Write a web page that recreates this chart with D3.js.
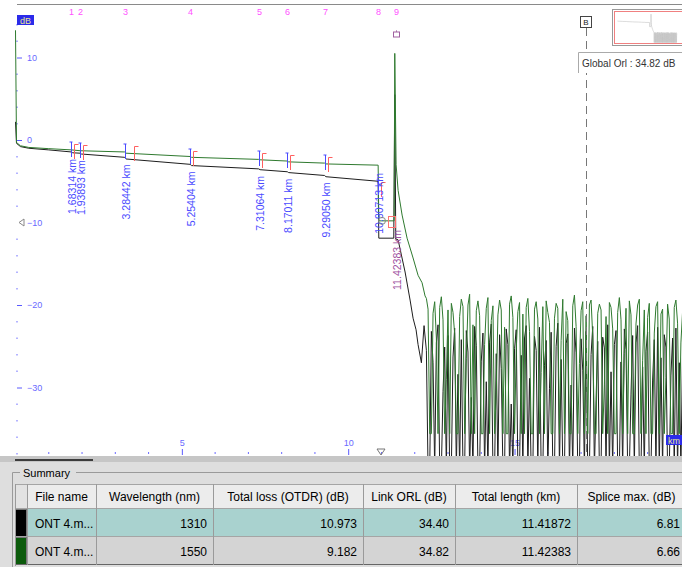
<!DOCTYPE html>
<html>
<head>
<meta charset="utf-8">
<script src="https://cdn.jsdelivr.net/npm/d3@7"></script>
<style>
  body { margin: 0; background: #fff; font-family: "Liberation Sans", Arial, sans-serif; }
  svg { display: block; }
</style>
</head>
<body>
<svg width="682" height="567"></svg>
<script>
//## DATA ##
const eventKm = [1.68314, 1.93893, 3.28442, 5.25404, 7.31064, 8.17011, 9.29050, 10.90713, 11.42383]
const yTicks = [10, 0, -10, -20, -30]
const xTicks = [5, 10, 15]
const globalOrl = 34.82

// 1310 nm trace (black) [km, dB]
const trace1310 = [
  [0, 2.2], [0.03, -0.4], [0.15, -0.8], [0.4, -1.0], [1.0, -1.2], [1.68, -1.45], [1.72, -1.55],
  [1.94, -1.6], [1.98, -1.7], [3.28, -2.1], [3.32, -2.3], [5.25, -2.95], [5.29, -3.1],
  [7.31, -3.5], [7.35, -3.6], [8.17, -3.85], [8.21, -3.95], [9.29, -4.3], [9.33, -4.45],
  [10.90, -5.0], [10.92, -11.9], [11.37, -11.9], [11.40, 5.5], [11.43, -12.0], [11.50, -12.1],
  [11.71, -16.0], [11.86, -19.4], [11.95, -21.6], [12.04, -23.0], [12.10, -24.8], [12.2, -27], [12.28, -22.5]
]
// 1550 nm trace (green) [km, dB]
const trace1550 = [
  [0, 13.3], [0.03, -0.3], [0.15, -0.7], [0.4, -0.9], [1.0, -1.05], [1.68, -1.2], [1.94, -1.3],
  [3.28, -1.45], [3.32, -1.6], [5.25, -2.0], [5.29, -2.1], [7.31, -2.35], [7.35, -2.4],
  [8.17, -2.55], [8.21, -2.65], [9.29, -2.8], [9.33, -2.9], [10.90, -3.05], [10.92, -9.8],
  [11.38, -9.8], [11.40, 10.5], [11.44, -3.0], [11.50, -6.1], [11.62, -9.1], [11.77, -11.9],
  [11.95, -14.3], [12.10, -16.4], [12.22, -17.3], [12.31, -18.9]
]
// noise tail after the fiber end, one value every noiseStep km
const noiseStart = 12.35
const noiseStep = 0.05
const noise1550 = [
  -19.2, -20.5, -35.6, -35.6, -21.0, -19.6, -24, -35.6, -20.3, -19.0, -21.8, -35.6, -29, -20.6, -35.6, -19.8, -20.9, -23.5, -35.6, -35.6,
  -21.4, -19.3, -20.2, -35.6, -26.5, -20.0, -18.7, -35.6, -22.4, -35.6, -20.7, -19.5, -21.3, -35.6, -35.6, -24.8, -20.4, -19.1, -35.6, -21.9,
  -20.1, -35.6, -30.5, -21.2, -19.4, -20.6, -35.6, -22.7, -35.6, -35.6, -19.9, -18.9, -21.5, -35.6, -25.5, -20.8, -19.7, -35.6, -21.1, -35.6,
  -20.3, -19.2, -23.2, -35.6, -35.6, -20.5, -19.6, -21.7, -35.6, -28.2, -20.2, -35.6, -19.5, -20.9, -22.1, -35.6, -35.6, -21.6, -19.8, -20.4,
  -35.6, -24.3, -19.3, -35.6, -20.8, -21.9, -35.6, -35.6, -20.1, -18.8, -22.6, -35.6, -27.1, -20.7, -19.6, -35.6, -21.3, -35.6, -20.0, -19.4,
  -23.8, -35.6, -35.6, -21.0, -19.9, -20.6, -35.6, -29.6, -21.4, -35.6, -19.7, -20.3, -22.9, -35.6, -35.6, -20.9, -19.1, -21.8, -35.6, -25.9,
  -20.4, -35.6, -19.5, -21.2, -35.6, -35.6, -22.3, -20.0, -19.3, -35.6, -26.7, -20.6, -35.6, -21.5, -19.8, -35.6, -35.6, -23.4, -20.2, -19.6,
  -35.6, -21.1, -20.5, -35.6, -28.8, -19.9, -21.7, -35.6, -35.6, -20.3, -19.4, -22.2, -35.6, -24.6, -20.8
]
const noise1310 = [
  -25.5, -40, -40, -23.2, -27, -40, -24.6, -22.4, -40, -40, -30.5, -25.1, -40, -23.7, -40, -40, -26.3, -22.8, -40, -28.4,
  -40, -24.2, -40, -40, -23.1, -25.7, -40, -31.2, -40, -22.6, -24.9, -40, -40, -26.8, -23.4, -40, -29.3, -40, -24.5, -22.3,
  -40, -40, -25.9, -40, -23.6, -27.7, -40, -40, -22.9, -24.8, -40, -32, -40, -25.3, -23.0, -40, -40, -26.1, -40, -24.0,
  -22.5, -40, -28.9, -40, -40, -23.8, -25.5, -40, -22.7, -40, -40, -27.3, -24.3, -40, -30.1, -23.3, -40, -40, -25.0, -22.2,
  -40, -26.6, -40, -40, -24.7, -23.5, -40, -29.7, -40, -22.8, -25.8, -40, -40, -24.1, -27.9, -40, -23.2, -40, -40, -26.0,
  -22.6, -40, -31.5, -24.4, -40, -40, -23.9, -25.2, -40, -22.4, -40, -28.1, -40, -24.8, -23.1, -40, -40, -26.9, -40, -22.9,
  -25.4, -40, -40, -30.8, -23.7, -40, -24.6, -22.5, -40, -40, -27.5, -40, -25.6, -23.3, -40, -40, -29.1, -24.2, -40, -22.7,
  -40, -26.4, -40, -23.6, -25.1, -40, -40, -28.6, -24.0, -40, -22.8, -40, -27.0, -40, -25.7
]

// summary table
const columns = ['File name', 'Wavelength (nm)', 'Total loss (OTDR) (dB)', 'Link ORL (dB)', 'Total length (km)', 'Splice max. (dB)']
const fileNames = ['ONT 4.m...', 'ONT 4.m...']
const wavelengths = ['1310', '1550']
const totalLoss = ['10.973', '9.182']
const linkOrl = ['34.40', '34.82']
const totalLength = ['11.41872', '11.42383']
const spliceMax = ['6.81', '6.66']
const traceColors = ['#1e1e1e', '#2f7a2f']
const swatchColors = ['#000', '#0b5a0b']

//## SET D3 VARIABLES ##
const svg = d3.select('svg')
const plot = { left: 15, top: 5, right: 682, bottom: 456 }

const x = d3.scaleLinear().domain([0, 20]).range([15.5, 15.5 + 20 * 33.27])
const y = d3.scaleLinear().domain([0, -10]).range([140, 222.5])

const withNoise = (trace, noise) => trace.concat(noise.map((v, i) => [noiseStart + i * noiseStep, v]))
const full1310 = withNoise(trace1310, noise1310)
const full1550 = withNoise(trace1550, noise1550)

const valueAt = function(pts, km) {
  const i = d3.bisector(d => d[0]).left(pts, km)
  if (i <= 0) return pts[0][1]
  const a = pts[i - 1], b = pts[i]
  return a[1] + (b[1] - a[1]) * (km - a[0]) / (b[0] - a[0])
}

svg.append('defs').append('clipPath').attr('id', 'plotClip')
  .append('rect')
  .attr('x', plot.left).attr('y', plot.top)
  .attr('width', plot.right - plot.left).attr('height', plot.bottom - plot.top)

// top border
svg.append('line').attr('x1', 17).attr('x2', 682).attr('y1', 4.5).attr('y2', 4.5)
  .attr('stroke', '#8a8a8a')

//## AXES ##
const yAxisGroup = svg.append('g')
  .attr('transform', 'translate(17,0)')
  .call(d3.axisRight(y).tickValues(yTicks).tickSize(5).tickPadding(5))
yAxisGroup.select('.domain').remove()
yAxisGroup.selectAll('line').attr('stroke', '#5a5aff')
  .attr('stroke-opacity', d => d === -10 ? 0 : 1)
yAxisGroup.selectAll('text').attr('fill', '#6a6aff').style('font-size', '9px')
  .style('font-family', '"Liberation Sans", Arial, sans-serif')

// y minor dots
svg.append('g').selectAll('rect').data(d3.range(14, -39, -2).filter(v => v % 10 !== 0))
  .enter().append('rect')
  .attr('x', 16.5).attr('y', d => y(d) - 0.5).attr('width', 1).attr('height', 1.5)
  .attr('fill', '#6a6aff')

// marker triangle on y axis
svg.append('path')
  .attr('d', `M${19},${y(-10)} L${24},${y(-10) - 3.5} L${24},${y(-10) + 3.5} Z`)
  .attr('fill', 'none').attr('stroke', '#888')

const xAxisGroup = svg.append('g')
  .attr('transform', 'translate(0,455)')
  .call(d3.axisTop(x).tickValues(xTicks).tickSize(6).tickPadding(3))
xAxisGroup.select('.domain').remove()
xAxisGroup.selectAll('line').attr('stroke', '#5a5aff')
xAxisGroup.selectAll('text').attr('fill', '#6a6aff').style('font-size', '9px')
  .style('font-family', '"Liberation Sans", Arial, sans-serif')

svg.append('g').selectAll('rect').data(d3.range(1, 20).filter(v => v % 5 !== 0))
  .enter().append('rect')
  .attr('x', d => x(d) - 0.5).attr('y', 452).attr('width', 1).attr('height', 2)
  .attr('fill', '#6a6aff')

// marker triangle on x axis
svg.append('path')
  .attr('d', 'M377,449 L385,449 L381,455 Z')
  .attr('fill', 'none').attr('stroke', '#777')

//## TRACES ##
const line = d3.line().x(d => x(d[0])).y(d => y(d[1]))
const traces = svg.append('g').attr('clip-path', 'url(#plotClip)')
traces.selectAll('path').data([full1310, full1550])
  .enter().append('path')
  .attr('d', line)
  .attr('fill', 'none')
  .attr('stroke', (d, i) => traceColors[i])
  .attr('stroke-width', 1)

// unit boxes
const unitBox = function(bx, by, w, label) {
  svg.append('rect').attr('x', bx).attr('y', by).attr('width', w).attr('height', 10).attr('fill', '#2b2bea')
  svg.append('text').attr('x', bx + w / 2).attr('y', by + 8.5).attr('text-anchor', 'middle')
    .attr('fill', '#e8e890').style('font-size', '9px').text(label)
}
unitBox(17, 15, 17, 'dB')
unitBox(666, 435, 16, 'km')

//## EVENTS ##
const events = svg.append('g')
eventKm.forEach((km, i) => {
  const ex = Math.round(x(km)) + 0.5
  // event number along the top
  events.append('text').attr('x', ex).attr('y', 15).attr('text-anchor', 'middle')
    .attr('fill', '#ff50ff').style('font-size', '9px').text(i + 1)

  if (i === eventKm.length - 1) {
    // end of fiber marker
    const peak = d3.max(trace1550, d => d[1])
    events.append('line').attr('x1', ex).attr('x2', ex).attr('y1', 37).attr('y2', y(peak))
      .attr('stroke', '#b080b0')
    events.append('rect').attr('x', ex - 3).attr('y', 32).attr('width', 6).attr('height', 5)
      .attr('fill', '#fff').attr('stroke', '#a060a0')
    events.append('text')
      .attr('transform', `translate(${ex + 4.5},230) rotate(-90)`)
      .attr('text-anchor', 'end').attr('fill', '#a050a0').style('font-size', '10.5px')
      .text(km.toFixed(5) + ' km')
    return
  }

  const yg = Math.round(y(valueAt(trace1550, km + 0.001)))
  const yb = y(valueAt(trace1310, km + 0.001))
  events.append('path')
    .attr('d', `M${ex},${yg - 8} V${yg + 7} M${ex - 2},${yg - 8} H${ex + 1}`)
    .attr('stroke', '#4a4aff').attr('fill', 'none')
  const rx = ex + (i === 2 ? 9 : 3)
  events.append('path')
    .attr('d', `M${rx + 4},${yg - 6 + 0.5} H${rx} V${yg + 9}`)
    .attr('stroke', '#ff6060').attr('fill', 'none')
  const labelTop = i === 7 ? 173 : yb + 7
  events.append('text')
    .attr('transform', `translate(${ex + 4.5},${labelTop}) rotate(-90)`)
    .attr('text-anchor', 'end').attr('fill', '#4a4aff').style('font-size', '10.5px')
    .text(km.toFixed(5) + ' km')
})

// end-reflection measurement marks
events.append('circle').attr('cx', 382).attr('cy', y(-9.8)).attr('r', 3.5)
  .attr('fill', 'none').attr('stroke', '#888')
events.append('rect').attr('x', 388.5).attr('y', 216.5).attr('width', 7).attr('height', 11)
  .attr('fill', 'none').attr('stroke', '#ff7070')

//## B CURSOR & ORL BOX ##
svg.append('line').attr('x1', 586.5).attr('x2', 586.5).attr('y1', 28).attr('y2', 455)
  .attr('stroke', '#777').attr('stroke-dasharray', '8,5')
svg.append('rect').attr('x', 580.5).attr('y', 16.5).attr('width', 11).attr('height', 11)
  .attr('fill', '#fff').attr('stroke', '#444')
svg.append('text').attr('x', 586).attr('y', 25).attr('text-anchor', 'middle')
  .style('font-size', '8px').attr('fill', '#222').text('B')
svg.append('rect').attr('x', 578).attr('y', 52).attr('width', 104).attr('height', 21).attr('fill', '#fff')
svg.append('path').attr('d', 'M578.5,73 V52.5 H682').attr('stroke', '#aaa').attr('fill', 'none')
svg.append('text').attr('x', 582).attr('y', 67).style('font-size', '10px').attr('fill', '#333')
  .text('Global Orl : ' + globalOrl.toFixed(2) + ' dB')

//## MINIMAP ##
const mini = svg.append('g')
mini.append('clipPath').attr('id', 'miniClip').append('rect')
  .attr('x', 615).attr('y', 12).attr('width', 67).attr('height', 31)
mini.append('rect').attr('x', 612.5).attr('y', 9.5).attr('width', 80).attr('height', 36)
  .attr('fill', '#fff').attr('stroke', '#999')
const mx = d3.scaleLinear().domain([0, 11.4]).range([617, 651])
const my = d3.scaleLinear().domain([14, -38]).range([12, 44])
mini.append('path')
  .attr('clip-path', 'url(#miniClip)')
  .attr('d', d3.line().x(d => mx(d[0])).y(d => my(d[1]))(full1550.slice(2)))
  .attr('fill', 'none').attr('stroke', '#c4c4c4').attr('stroke-width', 0.6)
mini.append('rect').attr('x', 614.5).attr('y', 11.5).attr('width', 76).attr('height', 32)
  .attr('fill', 'none').attr('stroke', '#f08080')

//## SUMMARY TABLE ##
const colEdges = [15, 27, 96, 213, 363, 455, 577, 686]
const rowTops = [484, 509, 537]
const rowH = [25, 28, 28]
const rowFills = ['#ececec', '#a9d2cf', '#d4d4d4']

const table = svg.append('g').style('font-size', '12px')
table.append('rect').attr('x', 0).attr('y', 456).attr('width', 682).attr('height', 111).attr('fill', '#dedede')
table.append('rect').attr('x', 0).attr('y', 456).attr('width', 682).attr('height', 6).attr('fill', '#c6c6c6')
table.append('rect').attr('x', 15).attr('y', 459).attr('width', 78).attr('height', 2).attr('fill', '#3c3c3c')

// group box
table.append('path').attr('d', 'M12.5,567 V472.5 H20 M76,472.5 H682')
  .attr('stroke', '#9a9a9a').attr('fill', 'none')
table.append('text').attr('x', 23).attr('y', 477).style('font-size', '11px').attr('fill', '#000').text('Summary')

const rows = [columns].concat(fileNames.map((f, i) =>
  [f, wavelengths[i], totalLoss[i], linkOrl[i], totalLength[i], spliceMax[i]]))

rows.forEach((row, r) => {
  const top = rowTops[r]
  table.append('rect').attr('x', 15).attr('y', top).attr('width', 667).attr('height', rowH[r])
    .attr('fill', rowFills[r])
  // swatch column
  if (r === 0) {
    table.append('rect').attr('x', 15).attr('y', top).attr('width', 12).attr('height', rowH[r]).attr('fill', '#e2e2e2')
  } else {
    table.append('rect').attr('x', 15.5).attr('y', top + 0.5).attr('width', 11).attr('height', rowH[r] - 1)
      .attr('fill', swatchColors[r - 1]).attr('stroke', '#777')
  }
  row.forEach((cell, c) => {
    const left = colEdges[c + 1], right = colEdges[c + 2]
    const base = top + rowH[r] / 2 + 4.5
    const t = table.append('text').attr('y', base).attr('fill', '#000').text(cell)
    if (r === 0) t.attr('x', (left + right) / 2).attr('text-anchor', 'middle')
    else if (c === 0) t.attr('x', 35)
    else t.attr('x', right - 6).attr('text-anchor', 'end')
  })
  table.append('line').attr('x1', 15).attr('x2', 682).attr('y1', top + rowH[r] - 0.5).attr('y2', top + rowH[r] - 0.5)
    .attr('stroke', r === 2 ? '#666' : '#a5a5a5')
})
table.append('line').attr('x1', 15).attr('x2', 682).attr('y1', 484.5).attr('y2', 484.5).attr('stroke', '#a5a5a5')
colEdges.slice(1, -1).forEach(cx => {
  table.append('line').attr('x1', cx + 0.5).attr('x2', cx + 0.5).attr('y1', 484).attr('y2', 565)
    .attr('stroke', '#9a9a9a')
})
table.append('line').attr('x1', 15.5).attr('x2', 15.5).attr('y1', 484).attr('y2', 566).attr('stroke', '#9a9a9a')
</script>
</body>
</html>
